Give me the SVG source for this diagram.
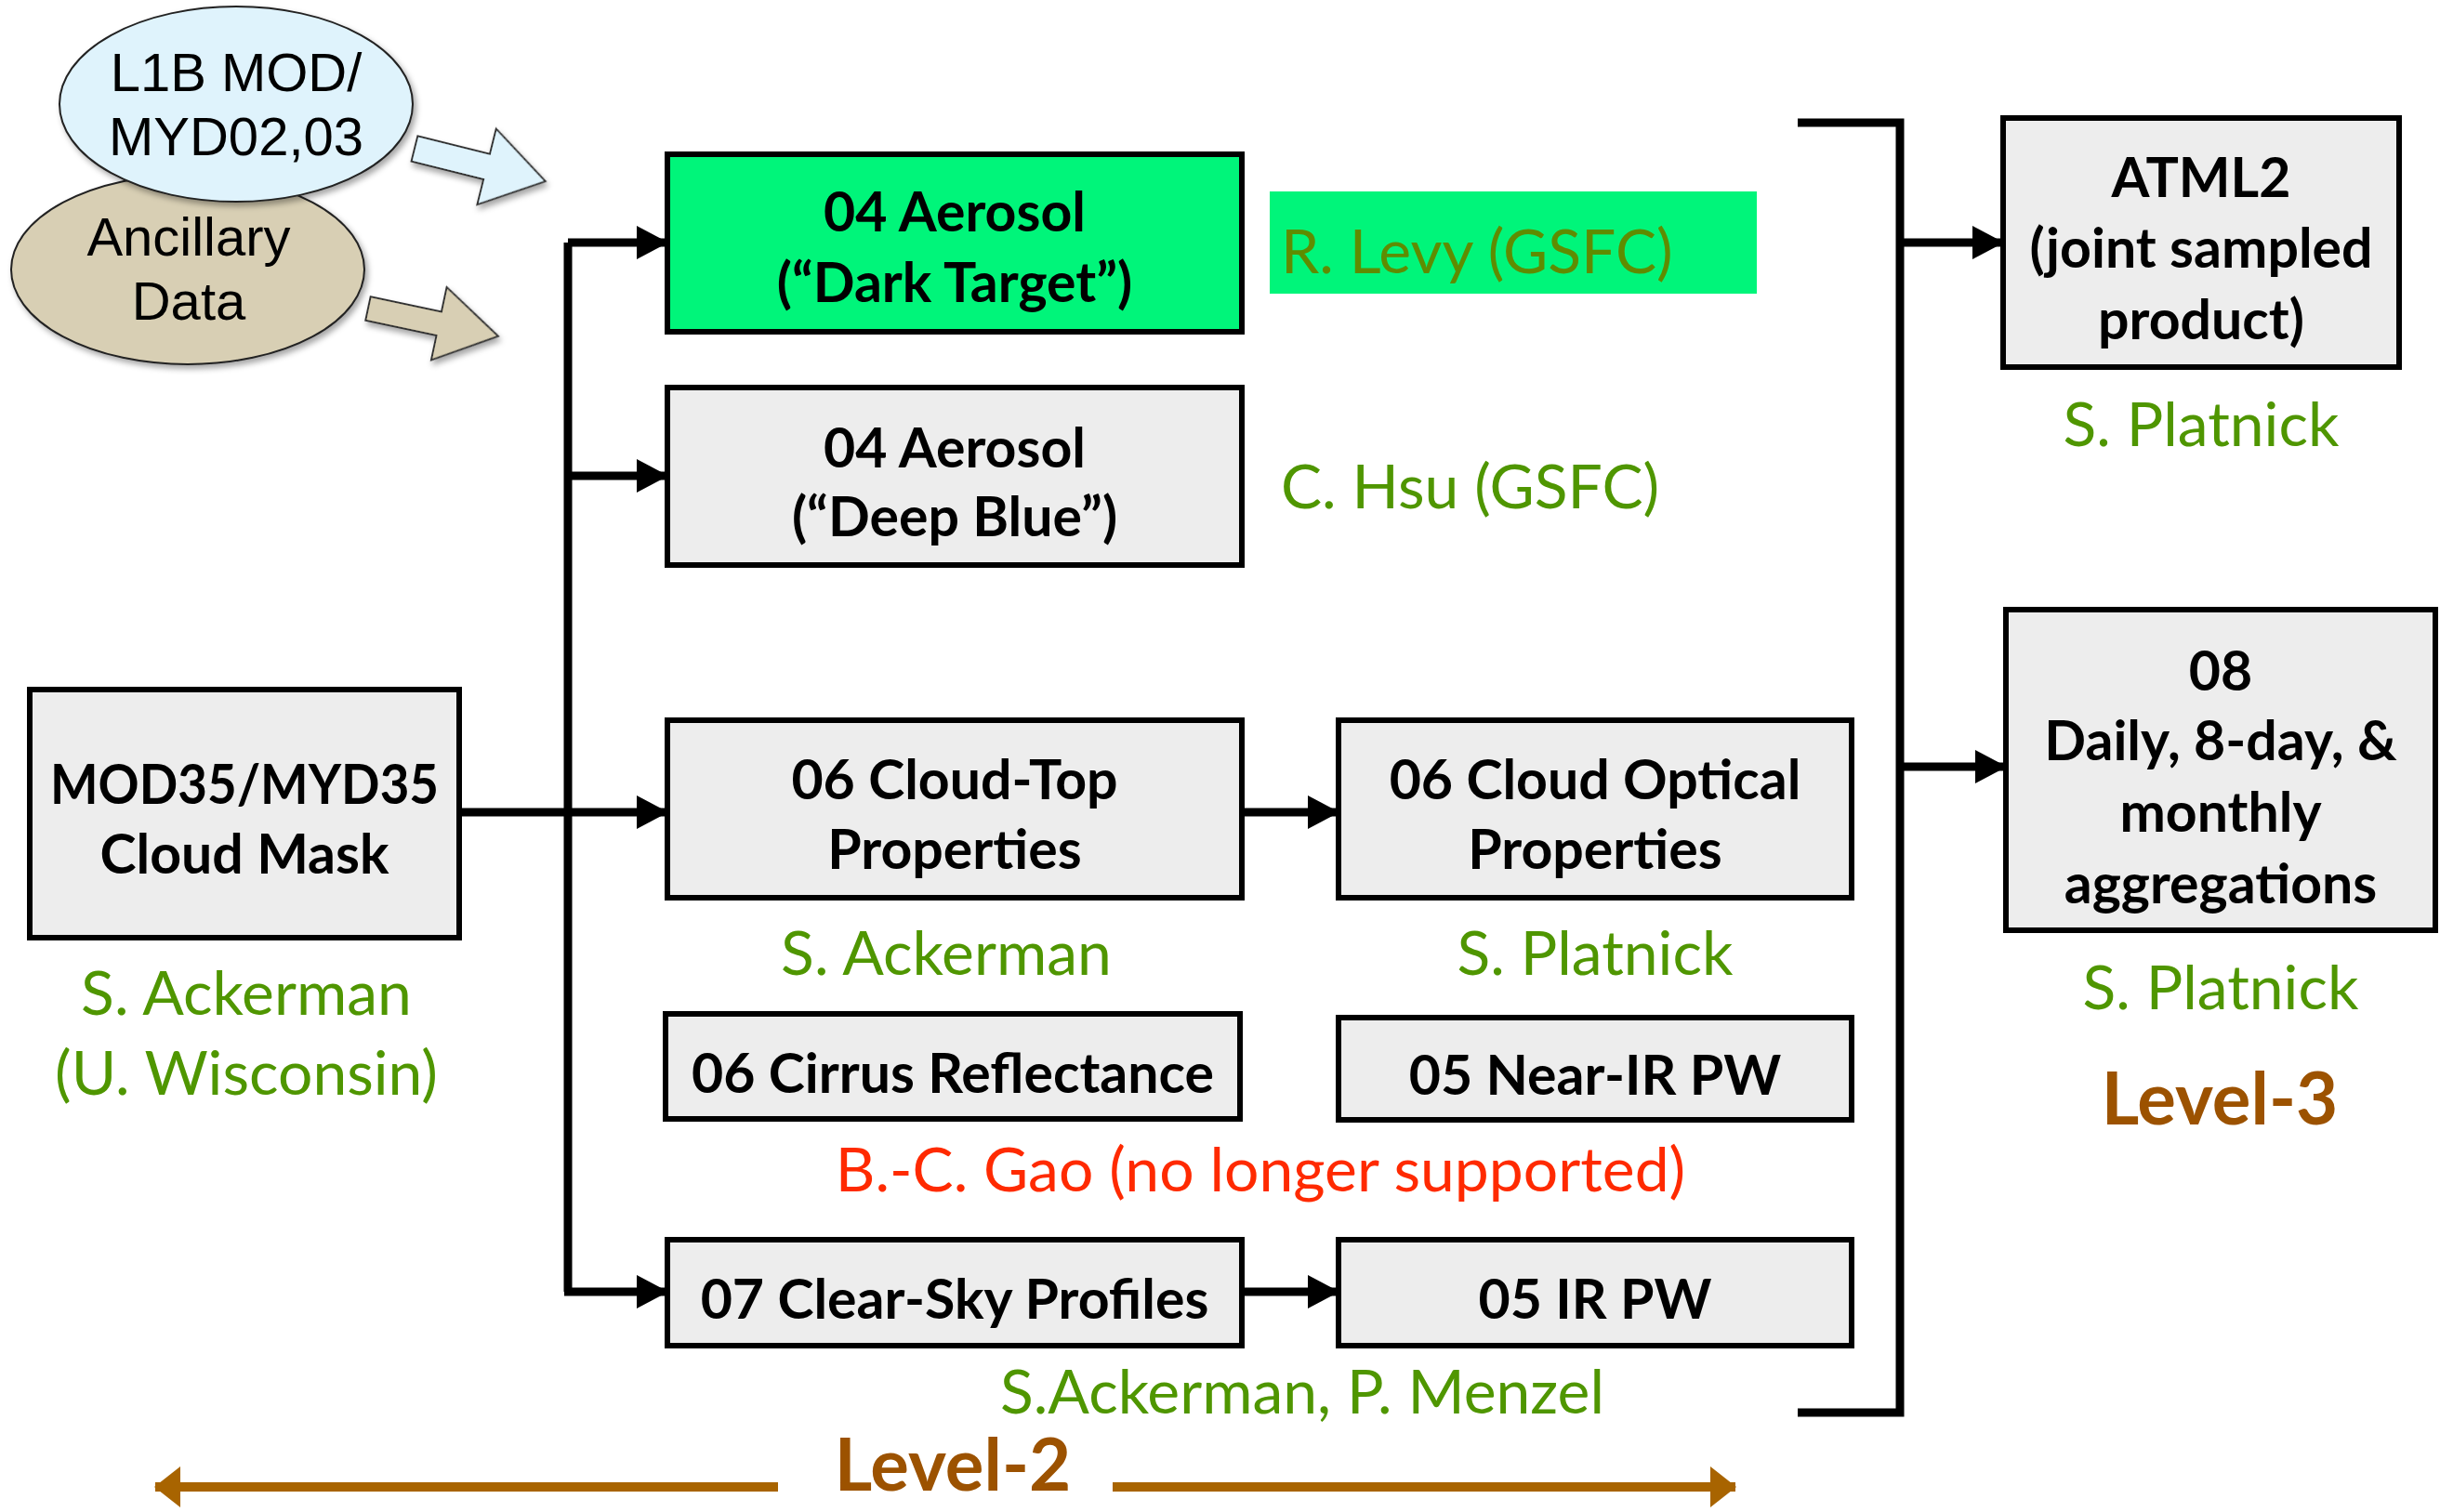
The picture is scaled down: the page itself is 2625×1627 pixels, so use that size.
<svg xmlns="http://www.w3.org/2000/svg" width="2625" height="1627" viewBox="0 0 2625 1627">
<defs>
<style>
.box{fill:#EDEDED;stroke:#000;stroke-width:6}
.bt{font-family:Lato,'Liberation Sans',sans-serif;font-weight:700;font-size:59px;fill:#000;text-anchor:middle;dominant-baseline:central}
.gl{font-family:Lato,'Liberation Sans',sans-serif;font-size:66px;fill:#4F9600;text-anchor:middle;dominant-baseline:central}
.el{font-family:'Liberation Sans',Arial,sans-serif;font-size:58px;fill:#000;text-anchor:middle;dominant-baseline:central}
.lv{font-family:Lato,'Liberation Sans',sans-serif;font-weight:700;font-size:78px;fill:#9C5200;text-anchor:middle;dominant-baseline:central}
.cn{fill:none;stroke:#000;stroke-width:9}
.br{fill:none;stroke:#A86400;stroke-width:10}
</style>
<marker id="ah" markerUnits="userSpaceOnUse" markerWidth="34" markerHeight="36" refX="33" refY="18" orient="auto">
<path d="M0,0 L34,18 L0,36 z" fill="#000"/>
</marker>
<marker id="bh" markerUnits="userSpaceOnUse" markerWidth="28" markerHeight="44" refX="27" refY="22" orient="auto">
<path d="M0,0 L28,22 L0,44 z" fill="#A86400"/>
</marker>
<filter id="sh" x="-20%" y="-20%" width="140%" height="140%">
<feDropShadow dx="3" dy="4" stdDeviation="3" flood-color="#000" flood-opacity="0.35"/>
</filter>
</defs>
<rect width="2625" height="1627" fill="#fff"/>

<g id="ancillary">
<ellipse cx="202" cy="290" rx="190" ry="102" fill="#D8CFB4" stroke="#222" stroke-width="2" filter="url(#sh)"/>
<text class="el" x="203" y="254">Ancillary</text>
<text class="el" x="203" y="323">Data</text>
<polygon transform="translate(396,332) rotate(12)" points="0,-13 78,-13 78,-40 143,0 78,40 78,13 0,13" fill="#D8CFB4" stroke="#333" stroke-width="2" filter="url(#sh)"/>
</g>

<g id="l1b">
<ellipse cx="254" cy="112" rx="190" ry="105" fill="#DFF3FC" stroke="#222" stroke-width="2" filter="url(#sh)"/>
<text class="el" x="254" y="77">L1B MOD/</text>
<text class="el" x="254" y="146">MYD02,03</text>
<polygon transform="translate(446,160) rotate(14)" points="0,-14 80,-14 80,-42 145,0 80,42 80,14 0,14" fill="#DFF3FC" stroke="#333" stroke-width="2" filter="url(#sh)"/>
</g>

<g id="connectors">
<path class="cn" d="M611,261 V1390"/>
<path class="cn" d="M494,874 H611"/>
<path class="cn" d="M611,261 H718" marker-end="url(#ah)"/>
<path class="cn" d="M611,512 H718" marker-end="url(#ah)"/>
<path class="cn" d="M611,874 H718" marker-end="url(#ah)"/>
<path class="cn" d="M607,1390 H718" marker-end="url(#ah)"/>
<path class="cn" d="M1336,874 H1440" marker-end="url(#ah)"/>
<path class="cn" d="M1336,1390 H1440" marker-end="url(#ah)"/>
<path class="cn" d="M1934,132 H2044 V1520 H1934"/>
<path class="cn" d="M2044,261 H2155" marker-end="url(#ah)"/>
<path class="cn" d="M2044,825 H2158" marker-end="url(#ah)"/>
<path class="br" d="M837,1600 H167" marker-end="url(#bh)"/>
<path class="br" d="M1197,1600 H1867" marker-end="url(#bh)"/>
</g>

<g id="mod35">
<rect class="box" x="32" y="742" width="462" height="267"/>
<text class="bt" x="263" y="842" textLength="418" lengthAdjust="spacingAndGlyphs">MOD35/MYD35</text>
<text class="bt" x="263" y="917">Cloud Mask</text>
<text class="gl" x="265" y="1066">S. Ackerman</text>
<text class="gl" x="265" y="1152">(U. Wisconsin)</text>
</g>

<g id="darktarget">
<rect x="718" y="166" width="618" height="191" fill="#00F57A" stroke="#000" stroke-width="6"/>
<text class="bt" x="1027" y="226">04 Aerosol</text>
<text class="bt" x="1027" y="302">(“Dark Target”)</text>
</g>
<g id="levy">
<rect x="1366" y="206" width="524" height="110" fill="#00F57A"/>
<text class="gl" x="1378" y="268" style="text-anchor:start;fill:#5E8C00">R. Levy (GSFC)</text>
</g>

<g id="deepblue">
<rect class="box" x="718" y="417" width="618" height="191"/>
<text class="bt" x="1027" y="480">04 Aerosol</text>
<text class="bt" x="1027" y="554">(“Deep Blue”)</text>
<text class="gl" x="1378" y="521" style="text-anchor:start">C. Hsu (GSFC)</text>
</g>

<g id="cloudtop">
<rect class="box" x="718" y="775" width="618" height="191"/>
<text class="bt" x="1027" y="837">06 Cloud-Top</text>
<text class="bt" x="1027" y="912">Properties</text>
<text class="gl" x="1018" y="1023">S. Ackerman</text>
</g>

<g id="cloudoptical">
<rect class="box" x="1440" y="775" width="552" height="191"/>
<text class="bt" x="1716" y="837">06 Cloud Optical</text>
<text class="bt" x="1716" y="912">Properties</text>
<text class="gl" x="1716" y="1023">S. Platnick</text>
</g>

<g id="cirrus">
<rect class="box" x="716" y="1091" width="618" height="113"/>
<text class="bt" x="1025" y="1153">06 Cirrus Reflectance</text>
</g>

<g id="nearir">
<rect class="box" x="1440" y="1095" width="552" height="110"/>
<text class="bt" x="1716" y="1155">05 Near-IR PW</text>
</g>

<g id="gao">
<text class="gl" x="1356" y="1256" style="fill:#FF2A00">B.-C. Gao (no longer supported)</text>
</g>

<g id="clearsky">
<rect class="box" x="718" y="1334" width="618" height="114"/>
<text class="bt" x="1027" y="1396">07 Clear-Sky Profiles</text>
</g>

<g id="irpw">
<rect class="box" x="1440" y="1334" width="552" height="114"/>
<text class="bt" x="1716" y="1396">05 IR PW</text>
</g>

<g id="menzel">
<text class="gl" x="1401" y="1495">S.Ackerman, P. Menzel</text>
</g>

<g id="atml2">
<rect class="box" x="2155" y="127" width="426" height="268"/>
<text class="bt" x="2368" y="189">ATML2</text>
<text class="bt" x="2368" y="265">(joint sampled</text>
<text class="bt" x="2368" y="342">product)</text>
<text class="gl" x="2368" y="454">S. Platnick</text>
</g>

<g id="l3agg">
<rect class="box" x="2158" y="656" width="462" height="345"/>
<text class="bt" x="2389" y="720">08</text>
<text class="bt" x="2389" y="795">Daily, 8-day, &amp;</text>
<text class="bt" x="2389" y="872">monthly</text>
<text class="bt" x="2389" y="949">aggregations</text>
<text class="gl" x="2389" y="1060">S. Platnick</text>
</g>

<g id="level3">
<text class="lv" x="2388" y="1180">Level-3</text>
</g>
<g id="level2">
<text class="lv" x="1025" y="1574">Level-2</text>
</g>
</svg>
